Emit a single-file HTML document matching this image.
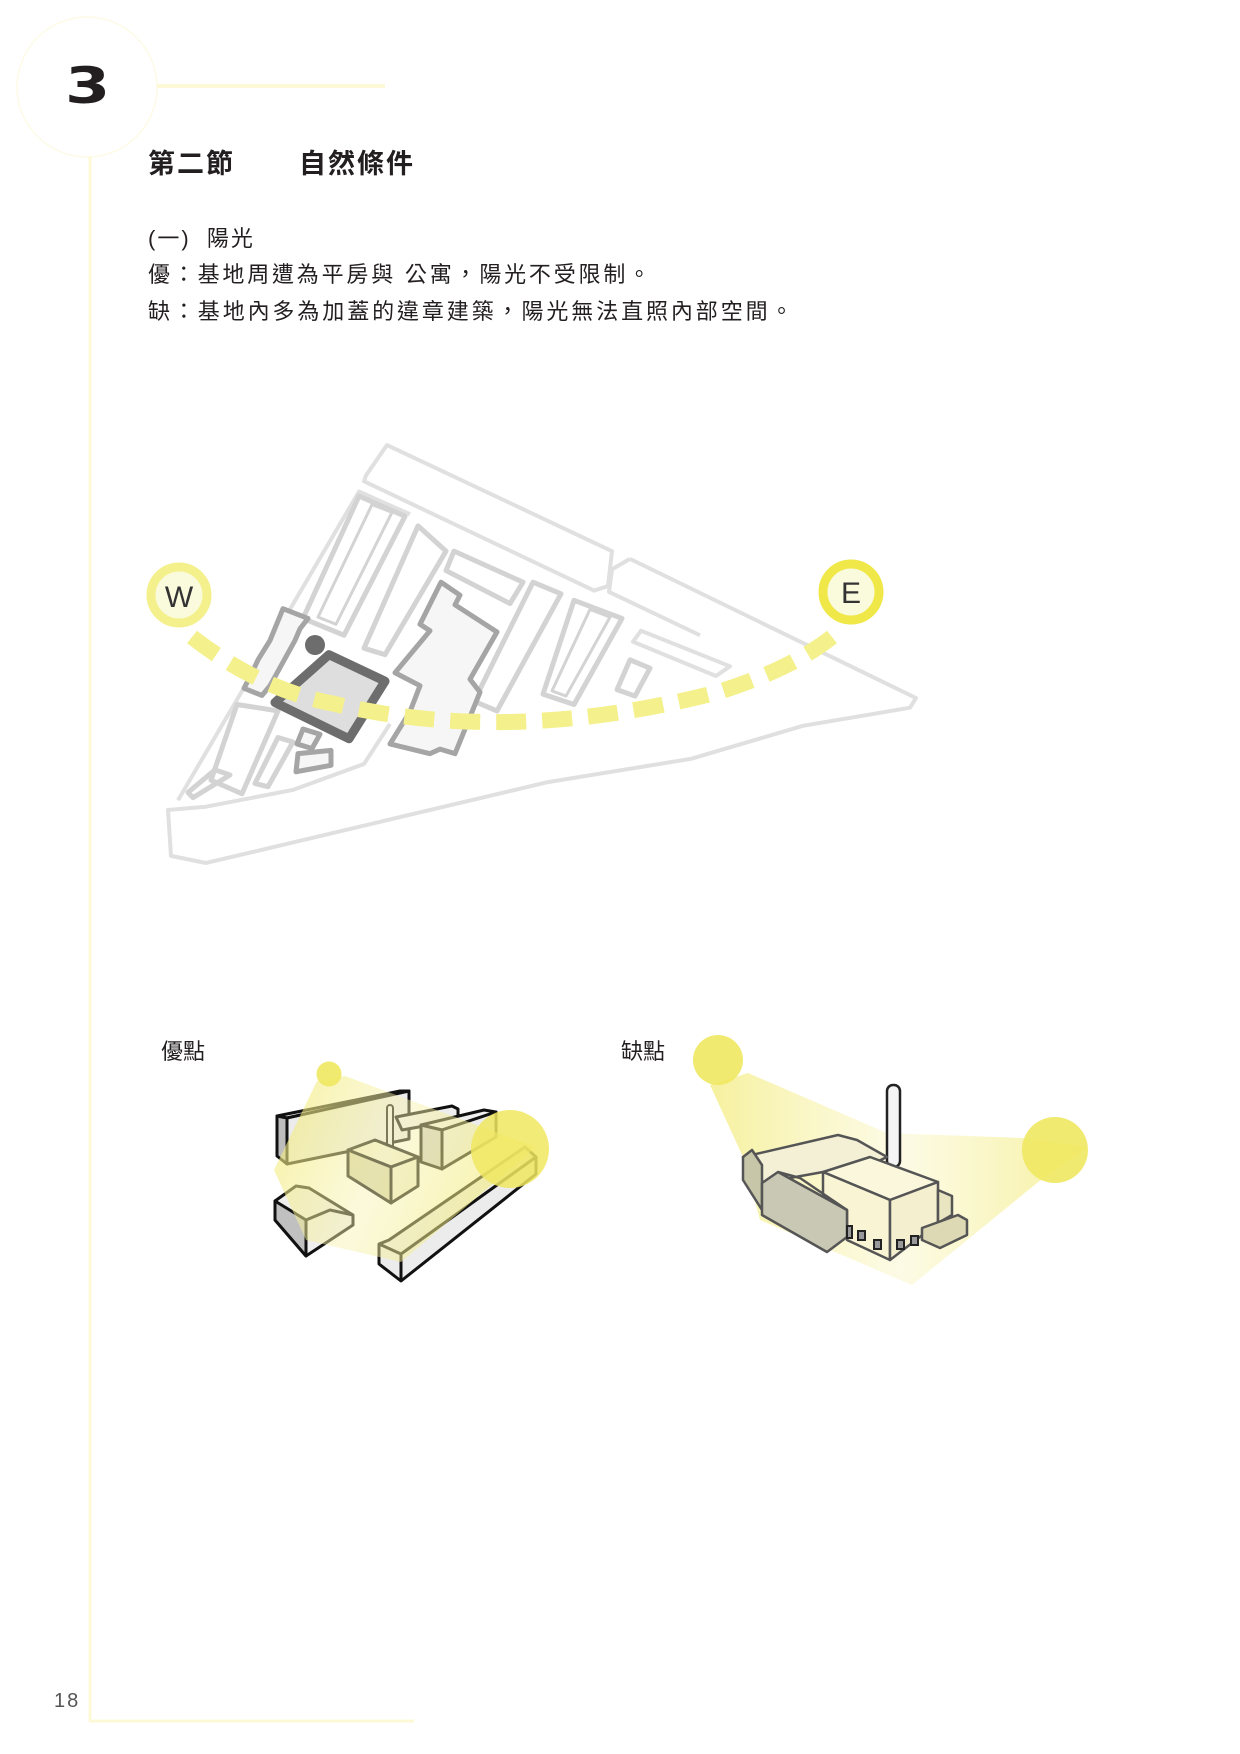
<!DOCTYPE html>
<html><head><meta charset="utf-8">
<style>
html,body{margin:0;padding:0;background:#fff;}
body{width:1240px;height:1754px;position:relative;overflow:hidden;font-family:"Liberation Sans","Noto Sans CJK TC",sans-serif;color:#231f20;}
.t{position:absolute;white-space:nowrap;}
</style></head><body>
<svg width="1240" height="1754" style="position:absolute;left:0;top:0" xmlns="http://www.w3.org/2000/svg">
<defs>
<linearGradient id="g1" x1="0" y1="0" x2="1" y2="0.3">
<stop offset="0" stop-color="#f2ea70" stop-opacity="0.9"/>
<stop offset="0.5" stop-color="#f7f2b0" stop-opacity="0.6"/>
<stop offset="1" stop-color="#f2ea70" stop-opacity="0.8"/>
</linearGradient>
<linearGradient id="g2" x1="0" y1="0" x2="1" y2="0">
<stop offset="0" stop-color="#f2ea70" stop-opacity="0.85"/>
<stop offset="0.5" stop-color="#faf6c8" stop-opacity="0.6"/>
<stop offset="1" stop-color="#f2ea70" stop-opacity="0.85"/>
</linearGradient>
</defs>
<!-- frame -->
<circle cx="87" cy="87" r="70" fill="none" stroke="#fdfbe6" stroke-width="1.5"/>
<line x1="157" y1="86" x2="385" y2="86" stroke="#fdf9d6" stroke-width="4"/>
<line x1="90" y1="157" x2="90" y2="1722" stroke="#fdf9d6" stroke-width="3"/>
<line x1="90" y1="1721" x2="414" y2="1721" stroke="#fdf9d6" stroke-width="3"/>

<!-- site map -->
<g transform="matrix(1,0,0,0.647,0,148.7)">
<g fill="none" stroke="#e0e0e0" stroke-width="4" stroke-linejoin="round" vector-effect="non-scaling-stroke">
<polygon vector-effect="non-scaling-stroke" points="387,458 612,622 608,676 594,683 364,514 366,505"/>
<path vector-effect="non-scaling-stroke" d="M630,634 L916,849 L910,864 L803,892 L691,943 L548,979 L206,1104 L171,1093 L168,1022 L206,1017 L293,991 L364,951 L390,889"/>
<path vector-effect="non-scaling-stroke" d="M630,634 L612,650 L609,685 L700,752"/>
<path vector-effect="non-scaling-stroke" d="M178,1007 L359,530 L410,565"/>
<polygon vector-effect="non-scaling-stroke" points="641,745 730,800 716,815 633,762"/>
</g>
<g fill="none" stroke="#d3d3d3" stroke-width="5" stroke-linejoin="round">
<polygon vector-effect="non-scaling-stroke" points="359,537 405,568 344,752 303,726"/>
<polygon vector-effect="non-scaling-stroke" points="372,550 392,562 336,735 318,724" stroke-width="3"/>
<polygon vector-effect="non-scaling-stroke" points="418,583 446,622 385,782 364,772"/>
<polygon vector-effect="non-scaling-stroke" points="454,622 523,670 510,703 446,652"/>
<polygon vector-effect="non-scaling-stroke" points="533,670 561,688 497,869 474,854"/>
<polygon vector-effect="non-scaling-stroke" points="574,698 622,726 574,859 543,843"/>
<polygon vector-effect="non-scaling-stroke" points="590,712 610,724 566,846 552,838" stroke-width="3"/>
<polygon vector-effect="non-scaling-stroke" points="630,790 650,803 635,846 617,836"/>
<polygon vector-effect="non-scaling-stroke" points="237,859 278,869 242,997 211,976"/>
<polygon vector-effect="non-scaling-stroke" points="278,910 293,917 268,986 255,981"/>
<polygon vector-effect="non-scaling-stroke" points="215,960 230,968 193,1003 188,995"/>
</g>
<g fill="#f6f6f6" stroke="#a5a5a5" stroke-width="5" stroke-linejoin="round">
<polygon vector-effect="non-scaling-stroke" points="441,670 460,690 455,705 497,747 470,820 480,840 455,935 440,928 430,935 390,920 410,870 420,830 395,810 430,745 420,735"/>
<polygon vector-effect="non-scaling-stroke" points="283,711 308,726 300,742 295,760 270,830 262,845 244,834 252,810 258,790 270,760"/>
<polygon vector-effect="non-scaling-stroke" points="298,935 331,930 331,953 296,963"/>
<polygon vector-effect="non-scaling-stroke" points="303,897 320,905 312,927 297,920"/>
</g>
<polygon vector-effect="non-scaling-stroke" points="329,782 385,823 349,912 275,856" fill="#dedede" stroke="#6d6d6d" stroke-width="9" stroke-linejoin="round"/>
</g>
<circle cx="315" cy="645" r="10" fill="#6d6d6d"/>
<!-- sun path -->
<path d="M192,637 Q260,690 335,704 Q510,745 715,693 Q790,670 832,637" fill="none" stroke="#f4f08c" stroke-width="16" stroke-dasharray="30,16"/>
<circle cx="179" cy="595" r="28" fill="#fafadc" stroke="#f4f08c" stroke-width="9"/>
<circle cx="851" cy="592" r="28" fill="#fafadc" stroke="#efe848" stroke-width="9"/>
<text x="179" y="607" font-family="Liberation Sans,sans-serif" font-size="30" fill="#333" text-anchor="middle">W</text>
<text x="851" y="603" font-family="Liberation Sans,sans-serif" font-size="30" fill="#333" text-anchor="middle">E</text>

<!-- advantage illustration -->
<g stroke="#111" stroke-width="3" stroke-linejoin="round">
<polygon points="277,1116 400,1091 409,1091 287,1118" fill="#f0f0f0"/>
<polygon points="287,1118 409,1091 409,1139 287,1164" fill="#ececec"/>
<polygon points="277,1116 287,1118 287,1164 277,1156" fill="#bdbdbd"/>
<polygon points="396,1117 452,1106 458,1109 458,1120 402,1130" fill="#eee"/>
<polygon points="421,1125 484,1110 496,1112 442,1130" fill="#f0f0f0"/>
<polygon points="442,1130 496,1112 496,1137 442,1169" fill="#ececec"/>
<polygon points="421,1125 442,1130 442,1169 421,1162" fill="#cfcfcf"/>
<rect x="387" y="1105" width="6" height="47" rx="3" fill="#eee" stroke-width="2"/>
<polygon points="348,1150 375,1140 418,1157 391,1167" fill="#f2f0d8"/>
<polygon points="348,1150 391,1167 391,1203 348,1176" fill="#d8d4b0"/>
<polygon points="391,1167 418,1157 418,1186 391,1203" fill="#f0eed8"/>
<polygon points="275,1201 296,1186 309,1188 353,1215 353,1225 306,1256 275,1220" fill="#eee"/>
<polygon points="275,1201 306,1220 306,1256 275,1220" fill="#c0c0c0"/>
<polyline points="306,1220 330,1210 353,1215" fill="none"/>
<polygon points="379,1244 389,1240 525,1147 536,1157 536,1174 401,1281 379,1264" fill="#ececec"/>
<polyline points="379,1244 401,1254 536,1157" fill="none"/>
<line x1="401" y1="1254" x2="401" y2="1281"/>
</g>
<polygon points="317,1081 345,1076 536,1147 401,1262 306,1240 274,1170" fill="url(#g1)" opacity="0.75"/>
<circle cx="329" cy="1074" r="12.5" fill="#f0e860" opacity="0.9"/>
<circle cx="510" cy="1149" r="39" fill="#f0e860" opacity="0.85"/>

<!-- disadvantage illustration -->
<polygon points="710,1085 748,1073 887,1133 1023,1138 1087,1147 1037,1183 912,1285 760,1220 743,1157" fill="url(#g2)" opacity="0.8"/>
<g stroke="#555" stroke-width="2.5" stroke-linejoin="round">
<rect x="887" y="1085" width="13" height="82" rx="6" fill="#f4f4f4" stroke="#222"/>
<polygon points="743,1157 838,1135 857,1140 887,1157 870,1165 823,1172 762,1183 762,1200" fill="#f3f0d6"/>
<polygon points="743,1157 752,1150 762,1165 762,1210 743,1180" fill="#c8c6a8"/>
<polygon points="823,1172 870,1157 938,1182 890,1200" fill="#faf7dc"/>
<polygon points="823,1172 890,1200 890,1260 847,1240 847,1210 823,1196" fill="#f8f4d4"/>
<polygon points="890,1200 938,1182 938,1223 890,1260" fill="#f3efcf"/>
<polygon points="762,1183 778,1172 847,1210 847,1237 827,1252 762,1215" fill="#c9c8b4"/>
<polyline points="778,1172 800,1178 847,1210" fill="none"/>
<polygon points="938,1190 952,1196 952,1215 938,1223" fill="#e9e5c0"/>
<polygon points="922,1228 958,1215 967,1220 967,1235 940,1248 922,1240" fill="#ddd9b5"/>
</g>
<g fill="#999" stroke="#222" stroke-width="2">
<rect x="847" y="1226" width="5" height="12"/>
<rect x="858" y="1231" width="7" height="9"/>
<rect x="874" y="1240" width="7" height="9"/>
<rect x="897" y="1240" width="7" height="9"/>
<rect x="911" y="1236" width="7" height="9"/>
</g>
<circle cx="718" cy="1060" r="25" fill="#f0e860" opacity="0.9"/>
<circle cx="1055" cy="1150" r="33" fill="#f0e860" opacity="0.9"/>
</svg>

<div class="t" style="left:65px;top:57px;font-size:50px;font-weight:bold;font-family:'DejaVu Sans',sans-serif;color:#231f20;transform:scaleX(1.3);transform-origin:left;">3</div>
<div class="t" style="left:148px;top:142px;font-size:27px;font-weight:bold;letter-spacing:2px;">第二節</div>
<div class="t" style="left:299px;top:142px;font-size:27px;font-weight:bold;letter-spacing:2px;">自然條件</div>
<div class="t" style="left:148px;top:221px;font-size:22px;letter-spacing:2px;">(一)&nbsp; 陽光</div>
<div class="t" style="left:148px;top:257px;font-size:22px;letter-spacing:2.8px;">優：基地周遭為平房與 公寓，陽光不受限制。</div>
<div class="t" style="left:148px;top:294px;font-size:22px;letter-spacing:2.9px;">缺：基地內多為加蓋的違章建築，陽光無法直照內部空間。</div>
<div class="t" style="left:161px;top:1034px;font-size:22px;">優點</div>
<div class="t" style="left:621px;top:1034px;font-size:22px;">缺點</div>
<div class="t" style="left:54px;top:1690px;font-size:20px;color:#555;letter-spacing:2px;">18</div>
</body></html>
